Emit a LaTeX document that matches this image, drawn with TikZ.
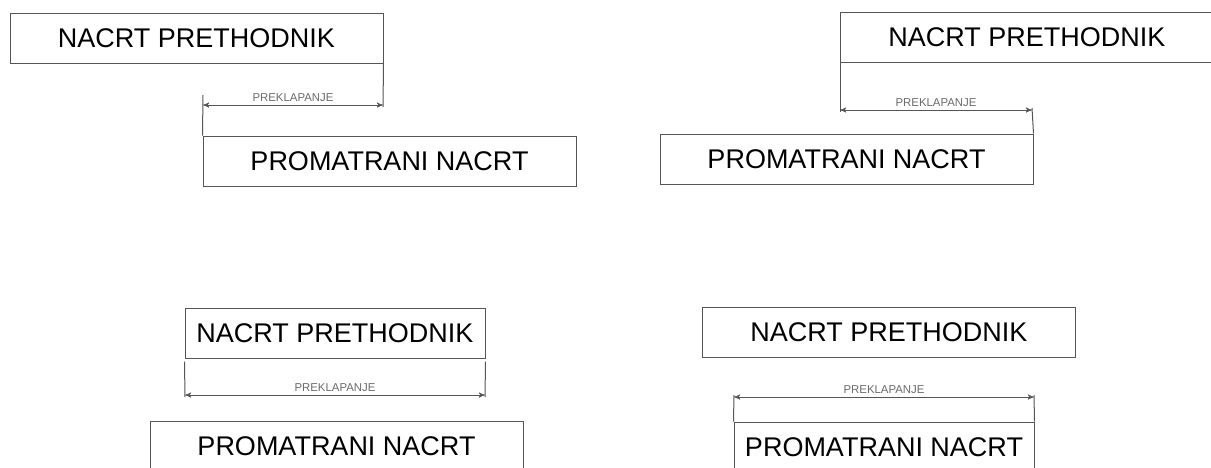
\documentclass[tikz,border=0pt]{standalone}
\usepackage{fontspec}
\setmainfont{Liberation Sans}
\usetikzlibrary{positioning, arrows}

\definecolor{crta}{HTML}{555555}
\definecolor{kota}{HTML}{6A6A6A}

\begin{document}
\begin{tikzpicture}[x=0.5pt,y=-0.5pt,>=stealth',line width=0.5pt,draw=crta,
    nacrt/.style={rectangle,draw=crta,minimum width=186.5pt,minimum height=25pt,inner sep=0pt,font=\fontsize{13.5}{16}\selectfont},
    kratki/.style={nacrt,minimum width=150pt},
    mjera/.style={<->,draw=crta,line width=0.25pt,shorten >=0pt,shorten <=0pt},
    natpis/.style={above,inner sep=1.8pt,text=kota,font=\fontsize{5.7}{6}\selectfont}]

\useasboundingbox (0,0) rectangle (1211,467);

% gore lijevo
\node[nacrt]   (p1a) at (196.5,38)  {NACRT PRETHODNIK};
\node[nacrt]   (p1b) at (389.5,161) {PROMATRANI NACRT};
\coordinate (p1l) at (203,105);
\coordinate (p1d) at (383,105);
\coordinate (p1g) at (203,95);
\coordinate (p1e) at (383,107);

% gore desno
\node[nacrt]   (p2a) at (1027,37)   {NACRT PRETHODNIK};
\node[nacrt]   (p2b) at (846.5,159) {PROMATRANI NACRT};
\coordinate (p2l) at (840,110);
\coordinate (p2d) at (1032,110);
\coordinate (p2e) at (840,112);
\coordinate (p2g) at (1032,108);

% dolje lijevo
\node[kratki]  (p3a) at (335,333)   {NACRT PRETHODNIK};
\node[nacrt]   (p3b) at (336.5,446) {PROMATRANI NACRT};
\coordinate (p3l) at (185,395);
\coordinate (p3d) at (485,395);
\coordinate (p3e) at (185,397);
\coordinate (p3f) at (485,397);

% dolje desno
\node[nacrt]   (p4a) at (889,332)   {NACRT PRETHODNIK};
\node[kratki]  (p4b) at (884,447)   {PROMATRANI NACRT};
\coordinate (p4l) at (734,397);
\coordinate (p4d) at (1034,397);
\coordinate (p4g) at (734,395);
\coordinate (p4h) at (1034,395);

% pomocne linije
\draw (p1a.south east) -- (p1e);
\draw (p1g) -- (p1b.north west);
\draw (p2a.south west) -- (p2e);
\draw (p2g) -- (p2b.north east);
\draw (p3a.south west) ++(0,3) -- (p3e);
\draw (p3a.south east) ++(0,3) -- (p3f);
\draw (p4g) -- (p4b.north west);
\draw (p4h) -- (p4b.north east);

\path[]
(p1l) edge[mjera] node[natpis]{PREKLAPANJE} (p1d)
(p2l) edge[mjera] node[natpis]{PREKLAPANJE} (p2d)
(p3l) edge[mjera] node[natpis]{PREKLAPANJE} (p3d)
(p4l) edge[mjera] node[natpis]{PREKLAPANJE} (p4d)
;
\end{tikzpicture}
\end{document}
